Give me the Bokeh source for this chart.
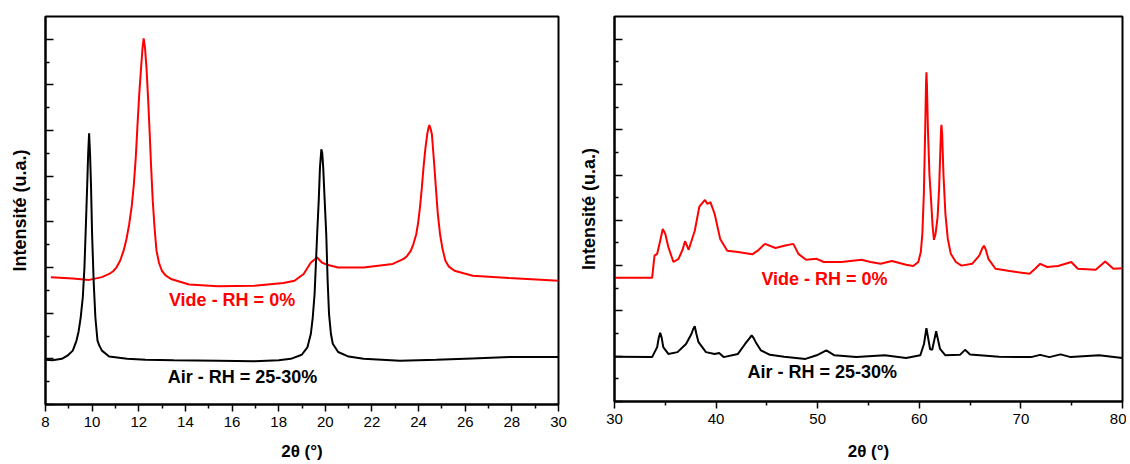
from bokeh.plotting import figure
from bokeh.models import Label, Range1d, FixedTicker
from bokeh.layouts import row
from bokeh.embed import file_html
from bokeh.resources import INLINE

FONT = "Liberation Sans"

# ---------------- data ----------------
# Left panel: 2theta 8-30
left_air_x = [8.0, 8.3, 8.7, 8.94, 9.17, 9.33, 9.42, 9.51, 9.6, 9.67, 9.73, 9.79, 9.83, 9.87,
              9.91, 9.95, 10.0, 10.07, 10.14, 10.23, 10.3, 10.42, 10.73, 11.5, 12.29, 13.5,
              15.4, 16.96, 18.0, 18.52, 18.99, 19.23, 19.38, 19.46, 19.54, 19.65, 19.72, 19.77,
              19.83, 19.87, 19.91, 19.97, 20.04, 20.1, 20.16, 20.24, 20.32, 20.55, 21.0, 21.64,
              23.2, 24.76, 26.3, 27.9, 30.0]
left_air_y = [0.98, 0.97, 1.00, 1.07, 1.18, 1.40, 1.60, 1.91, 2.35, 3.00, 3.90, 4.83, 5.50, 5.94,
              5.50, 4.83, 3.70, 2.64, 1.90, 1.40, 1.30, 1.18, 1.05, 1.00, 0.98, 0.97,
              0.96, 0.95, 0.97, 1.00, 1.09, 1.25, 1.55, 1.90, 2.42, 3.73, 4.50, 5.19,
              5.59, 5.50, 5.19, 4.50, 3.73, 2.70, 1.98, 1.55, 1.33, 1.15, 1.05, 1.00,
              0.96, 0.98, 1.01, 1.04, 1.04]

left_vide_x = [8.23, 9.17, 9.87, 10.42, 10.73, 10.9, 11.04, 11.2, 11.35, 11.47, 11.59, 11.7,
               11.79, 11.87, 11.94, 12.02, 12.1, 12.16, 12.21, 12.27, 12.33, 12.4, 12.47, 12.53,
               12.6, 12.68, 12.76, 12.87, 12.99, 13.15, 13.38, 14.16, 15.4, 16.96, 18.2, 18.68,
               19.07, 19.38, 19.65, 19.85, 20.08, 20.55, 21.64, 22.89, 23.36, 23.5, 23.67, 23.78,
               23.9, 23.98, 24.06, 24.14, 24.21, 24.29, 24.37, 24.42, 24.46, 24.51, 24.57, 24.65,
               24.73, 24.82, 24.92, 25.03, 25.15, 25.3, 25.54, 26.32, 27.88, 30.0]
left_vide_y = [2.79, 2.76, 2.73, 2.79, 2.86, 2.92, 3.00, 3.15, 3.37, 3.62, 3.95, 4.35,
               4.83, 5.40, 6.07, 6.80, 7.38, 7.80, 8.02, 7.80, 7.38, 6.70, 5.92, 5.20,
               4.46, 3.85, 3.37, 3.10, 2.93, 2.83, 2.75, 2.63, 2.59, 2.60, 2.66, 2.71,
               2.86, 3.11, 3.22, 3.11, 3.06, 3.00, 3.00, 3.08, 3.19, 3.25, 3.37, 3.52,
               3.73, 3.98, 4.32, 4.75, 5.19, 5.60, 5.92, 6.05, 6.12, 6.05, 5.92, 5.40,
               4.83, 4.20, 3.73, 3.40, 3.15, 3.02, 2.93, 2.82, 2.77, 2.71]

# Right panel: 2theta 30-80
right_vide_x = [30.0, 33.7, 33.94, 34.2, 34.5, 34.75, 35.0, 35.3, 35.8, 36.3, 36.7, 36.94, 37.3,
                37.9, 38.35, 38.9, 39.15, 39.44, 39.86, 40.4, 41.1, 42.15, 43.56, 44.1, 44.8,
                45.85, 46.7, 47.6, 48.1, 48.85, 49.9, 50.6, 52.36, 54.3, 55.2, 56.2, 57.3,
                58.7, 59.4, 59.9, 60.15, 60.3, 60.45, 60.58, 60.66, 60.7, 60.75, 60.85, 61.0,
                61.16, 61.3, 61.44, 61.6, 61.8, 61.95, 62.08, 62.14, 62.18, 62.25, 62.38,
                62.57, 62.8, 63.1, 63.6, 64.15, 65.2, 65.9, 66.2, 66.37, 66.55, 66.8, 67.5,
                68.9, 70.85, 71.4, 71.9, 72.6, 73.66, 74.96, 75.6, 77.36, 78.3, 79.1, 80.0]
right_vide_y = [2.73, 2.73, 3.22, 3.26, 3.55, 3.81, 3.70, 3.41, 3.08, 3.15, 3.35, 3.54, 3.35,
                3.77, 4.30, 4.45, 4.36, 4.40, 4.14, 3.59, 3.33, 3.30, 3.25, 3.33, 3.48,
                3.39, 3.44, 3.48, 3.26, 3.13, 3.15, 3.08, 3.08, 3.13, 3.08, 3.04, 3.10,
                3.02, 2.99, 3.08, 3.30, 3.70, 4.60, 6.00, 7.00, 7.27, 7.00, 6.00, 5.00,
                4.44, 3.90, 3.57, 3.70, 4.07, 4.70, 5.60, 6.00, 6.11, 5.90, 5.00,
                4.14, 3.60, 3.26, 3.08, 3.00, 3.04, 3.22, 3.38, 3.44, 3.35, 3.15, 2.93,
                2.88, 2.82, 2.93, 3.04, 2.97, 2.99, 3.08, 2.93, 2.91, 3.09, 2.93, 2.94]

right_air_x = [30.0, 33.7, 34.2, 34.35, 34.5, 34.65, 34.8, 35.3, 36.2, 37.04, 37.57, 37.75, 37.9,
               38.05, 38.27, 39.0, 39.86, 40.3, 40.74, 42.15, 42.85, 43.3, 43.5, 43.7, 43.9,
               44.4, 45.3, 46.7, 48.8, 49.9, 50.85, 51.65, 53.8, 56.6, 58.7, 60.1, 60.46,
               60.7, 61.06, 61.27, 61.66, 62.04, 62.57, 64.0, 64.5, 65.0, 67.85, 71.0, 71.9,
               72.8, 73.9, 74.9, 77.7, 80.0]
right_air_y = [0.99, 0.98, 1.20, 1.40, 1.52, 1.40, 1.20, 1.05, 1.09, 1.27, 1.49, 1.60, 1.66,
               1.50, 1.31, 1.09, 1.05, 1.07, 0.98, 1.05, 1.27, 1.40, 1.46, 1.40, 1.31,
               1.13, 1.03, 0.99, 0.94, 1.02, 1.13, 1.02, 0.98, 1.02, 0.96, 1.02, 1.27,
               1.62, 1.16, 1.14, 1.55, 1.16, 1.02, 1.03, 1.14, 1.04, 0.99, 0.98, 1.03,
               0.98, 1.04, 0.98, 1.02, 0.96]

left_xticks = [8, 10, 12, 14, 16, 18, 20, 22, 24, 26, 28, 30]
left_xminor = [9, 11, 13, 15, 17, 19, 21, 23, 25, 27, 29]
right_xticks = [30, 40, 50, 60, 70, 80]
right_xminor = [35, 45, 55, 65, 75]
yticks = [0, 1, 2, 3, 4, 5, 6, 7, 8]
yminor = [0.5, 1.5, 2.5, 3.5, 4.5, 5.5, 6.5, 7.5]

label_vide = "Vide - RH = 0%"
label_air = "Air - RH = 25-30%"
xlabel = "2θ (°)"
ylabel = "Intensité (u.a.)"

RED = "#ff0000"
BLACK = "#000000"


def make_fig(xr, xticks, xminor, frame_w, frame_h, bl, br, bb, xstand):
    p = figure(frame_width=frame_w, frame_height=frame_h, output_backend="svg",
               toolbar_location=None, x_range=Range1d(*xr), y_range=Range1d(0, 8.5),
               min_border_left=bl, min_border_right=br, min_border_top=16,
               min_border_bottom=bb, background_fill_color="white",
               border_fill_color="white")
    p.xgrid.visible = False
    p.ygrid.visible = False
    p.outline_line_color = BLACK
    p.outline_line_width = 2
    p.outline_line_alpha = 1

    xa = p.xaxis[0]
    xa.ticker = FixedTicker(ticks=xticks, minor_ticks=xminor)
    xa.axis_line_width = 2
    xa.axis_line_color = BLACK
    xa.major_tick_in = 0
    xa.major_tick_out = 7
    xa.minor_tick_in = 0
    xa.minor_tick_out = 4
    xa.major_tick_line_width = 1.5
    xa.minor_tick_line_width = 1.5
    xa.major_label_text_font = FONT
    xa.major_label_text_font_size = "15px"
    xa.major_label_text_color = BLACK
    xa.major_label_standoff = 5
    xa.axis_label = xlabel
    xa.axis_label_text_font = FONT
    xa.axis_label_text_font_size = "17px"
    xa.axis_label_text_font_style = "bold"
    xa.axis_label_text_color = BLACK
    xa.axis_label_standoff = xstand

    ya = p.yaxis[0]
    ya.ticker = FixedTicker(ticks=yticks, minor_ticks=yminor)
    ya.axis_line_width = 2
    ya.axis_line_color = BLACK
    ya.major_tick_in = 8
    ya.major_tick_out = 0
    ya.minor_tick_in = 4
    ya.minor_tick_out = 0
    ya.major_tick_line_width = 1.5
    ya.minor_tick_line_width = 1.5
    ya.major_label_overrides = {t: "" for t in yticks}
    ya.major_label_standoff = 0
    ya.axis_label = ylabel
    ya.axis_label_text_font = FONT
    ya.axis_label_text_font_size = "18px"
    ya.axis_label_text_font_style = "bold"
    ya.axis_label_text_color = BLACK
    ya.axis_label_standoff = 16
    return p


p1 = make_fig((8, 30), left_xticks, left_xminor, 513, 388, 45, 12, 58, 12)
p1.line(left_vide_x, left_vide_y, line_color=RED, line_width=2)
p1.line(left_air_x, left_air_y, line_color=BLACK, line_width=2)
p1.add_layout(Label(x=16.0, y=2.28, text=label_vide, text_align="center",
                    text_baseline="middle", text_font=FONT, text_font_size="18px",
                    text_font_style="bold", text_color=RED))
p1.add_layout(Label(x=16.45, y=0.61, text=label_air, text_align="center",
                    text_baseline="middle", text_font=FONT, text_font_size="18px",
                    text_font_style="bold", text_color=BLACK))

p2 = make_fig((30, 80), right_xticks, right_xminor, 508, 385, 44, 4, 61, 15)
p2.line(right_vide_x, right_vide_y, line_color=RED, line_width=2)
p2.line(right_air_x, right_air_y, line_color=BLACK, line_width=2)
p2.add_layout(Label(x=50.67, y=2.71, text=label_vide, text_align="center",
                    text_baseline="middle", text_font=FONT, text_font_size="18px",
                    text_font_style="bold", text_color=RED))
p2.add_layout(Label(x=50.45, y=0.65, text=label_air, text_align="center",
                    text_baseline="middle", text_font=FONT, text_font_size="18px",
                    text_font_style="bold", text_color=BLACK))

layout = row(p1, p2, spacing=0)
open("out.html", "w").write(file_html(layout, INLINE))
